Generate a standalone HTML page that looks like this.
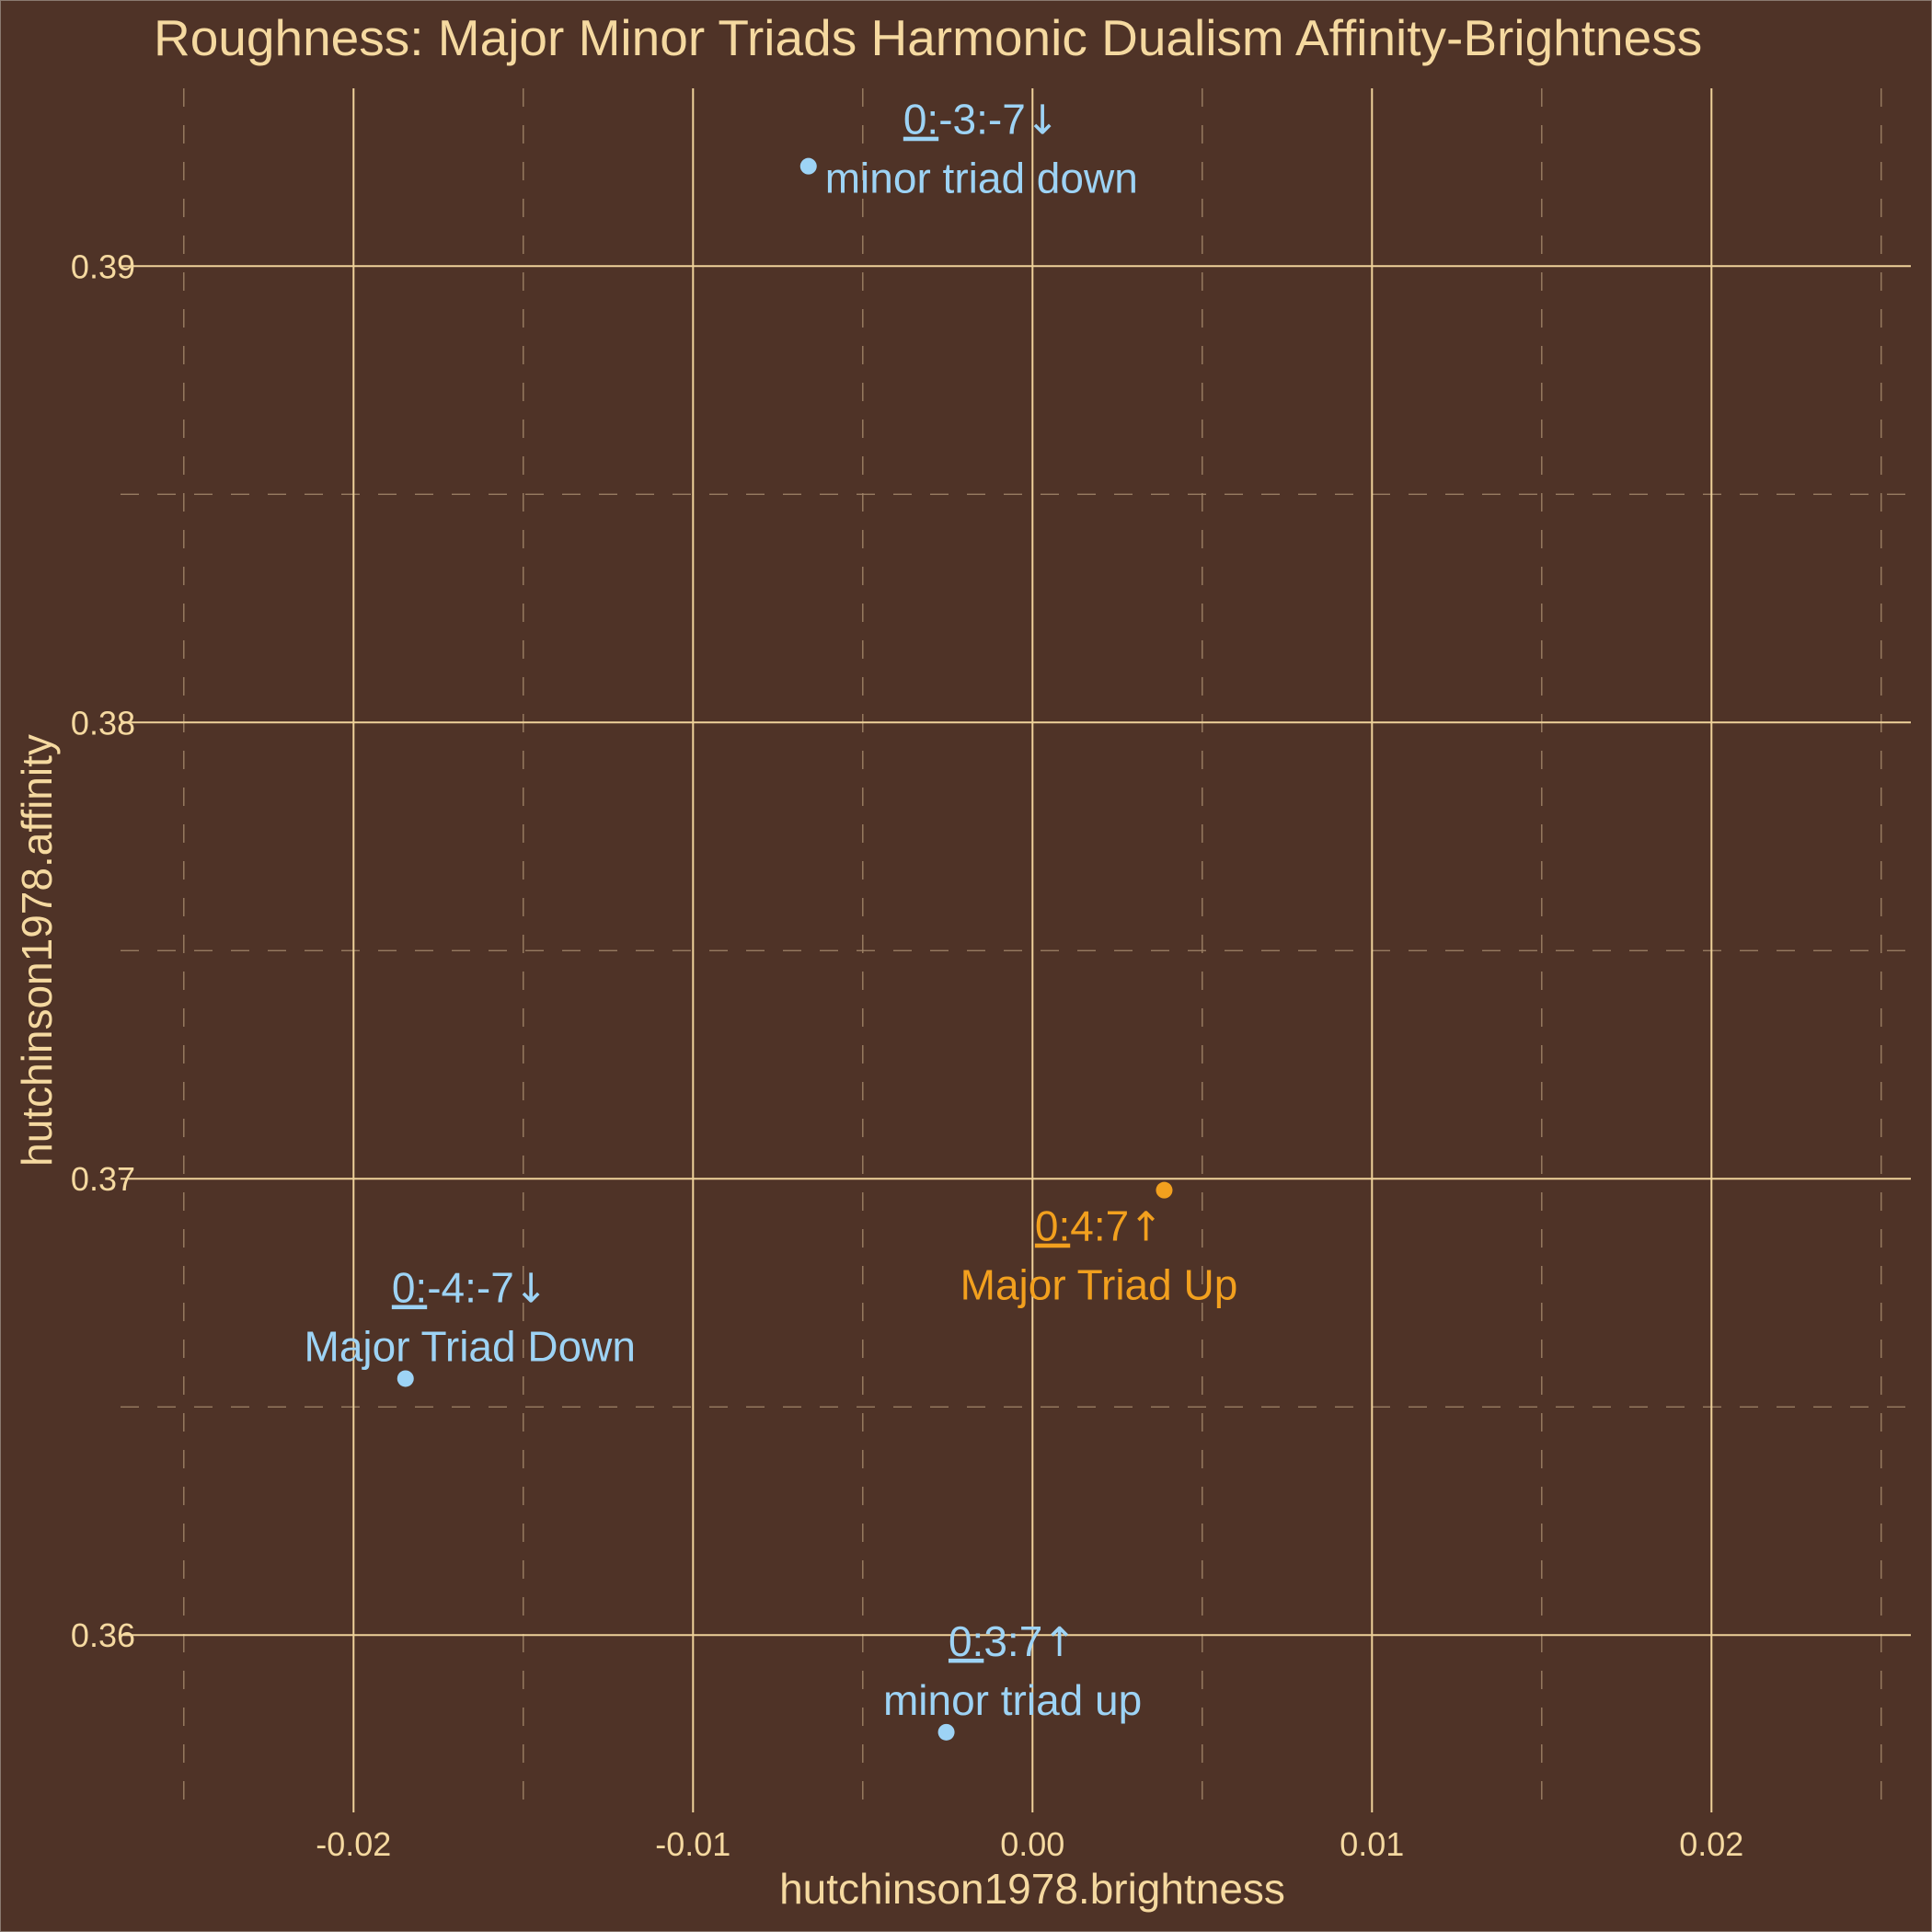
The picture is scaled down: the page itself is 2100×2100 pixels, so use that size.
<!DOCTYPE html>
<html><head><meta charset="utf-8"><style>
html,body{margin:0;padding:0;background:#4F3327;}
svg{display:block;font-family:"Liberation Sans",Arial,sans-serif;}
</style></head><body>
<svg id="chart" width="2100" height="2100" viewBox="0 0 2100 2100">
<rect x="0" y="0" width="2100" height="2100" fill="#4F3327" stroke="#8a7a70" stroke-width="2"/>
<g id="grid"></g>
<g id="marks"></g>
<text x="167" y="60" font-size="55" fill="#F5D9A0">Roughness: Major Minor Triads Harmonic Dualism Affinity-Brightness</text>
<text x="1122" y="2069" font-size="46" fill="#F5D9A0" text-anchor="middle">hutchinson1978.brightness</text>
<text transform="translate(56,1033) rotate(-90)" font-size="46" fill="#F5D9A0" text-anchor="middle">hutchinson1978.affinity</text>
</svg>
<script>
const names = ["minor triad down","Major Triad Up","Major Triad Down","minor triad up"];
const codes = ["-3:-7","4:7","-4:-7","3:7"];
const arrows = ["↓","↑","↓","↑"];
const xVals = [-0.0066, 0.00388, -0.01847, -0.00254];
const yVals = [0.39219, 0.36975, 0.36562, 0.35787];
const colors = ["#9DD3F5","#F2A01E","#9DD3F5","#9DD3F5"];
const xTicks = [-0.02,-0.01,0.00,0.01,0.02];
const xTickLabels = ["-0.02","-0.01","0.00","0.01","0.02"];
const xMinor = [-0.025,-0.015,-0.005,0.005,0.015,0.025];
const yTicks = [0.36,0.37,0.38,0.39];
const yTickLabels = ["0.36","0.37","0.38","0.39"];
const yMinor = [0.365,0.375,0.385];
// label offsets (pixels from point) for repelled labels
const labelDx = [188,-71,70,72];
const labelDy = [-35,55,-83,-83];

const P = {l:131, r:2077, t:96, b:1970};
const X = v => 1122.3 + v*36900;
const Y = v => 289.3 - (v-0.39)*49597;
const NS = "http://www.w3.org/2000/svg";
const grid = document.getElementById('grid'), marks = document.getElementById('marks');
function mk(tag, attrs, parent){const e=document.createElementNS(NS,tag);for(const k in attrs)e.setAttribute(k,attrs[k]);parent.appendChild(e);return e;}

xMinor.forEach(v=>{
  const e=mk('line',{x1:X(v),x2:X(v),y1:P.t,y2:P.b,stroke:"#A08468","stroke-width":1.3,"stroke-dasharray":"20,20"},grid);
  
  
});
yMinor.forEach(v=>{
  const e=mk('line',{x1:P.l,x2:P.r,y1:Y(v),y2:Y(v),stroke:"#A08468","stroke-width":1.3,"stroke-dasharray":"20,20"},grid);
  
  
});
xTicks.forEach((v,i)=>{
  const e=mk('line',{x1:X(v),x2:X(v),y1:P.t,y2:P.b,stroke:"#EFD29A","stroke-width":2},grid);
  
  
  const t=mk('text',{x:X(v),y:2017,"font-size":36,fill:"#F5D9A0","text-anchor":"middle"},grid);
  t.textContent=xTickLabels[i];
  
  
});
yTicks.forEach((v,i)=>{
  const e=mk('line',{x1:P.l,x2:P.r,y1:Y(v),y2:Y(v),stroke:"#EFD29A","stroke-width":2},grid);
  
  
  const t=mk('text',{x:147,y:Y(v)+13,"font-size":36,fill:"#F5D9A0","text-anchor":"end"},grid);
  t.textContent=yTickLabels[i];
  
  
});
xVals.forEach((xv,i)=>{
  const cx=X(xv), cy=Y(yVals[i]);
  const c=mk('circle',{cx:cx,cy:cy,r:9,fill:colors[i]},marks);
  
  
  const lx=cx+labelDx[i], ly=cy+labelDy[i];
  const t1=mk('text',{x:lx,y:ly,"font-size":46,fill:colors[i],"text-anchor":"middle"},marks);
  
  
  const u=mk('tspan',{"text-decoration":"underline"},t1); u.textContent="0:";
  const r=mk('tspan',{},t1); r.textContent=codes[i];
  const a=mk('tspan',{"font-family":"DejaVu Sans, sans-serif","font-size":44},t1); a.textContent=arrows[i];
  const t2=mk('text',{x:lx,y:ly+64,"font-size":46,fill:colors[i],"text-anchor":"middle"},marks);
  t2.textContent=names[i];
  
  
});
</script>
</body></html>
